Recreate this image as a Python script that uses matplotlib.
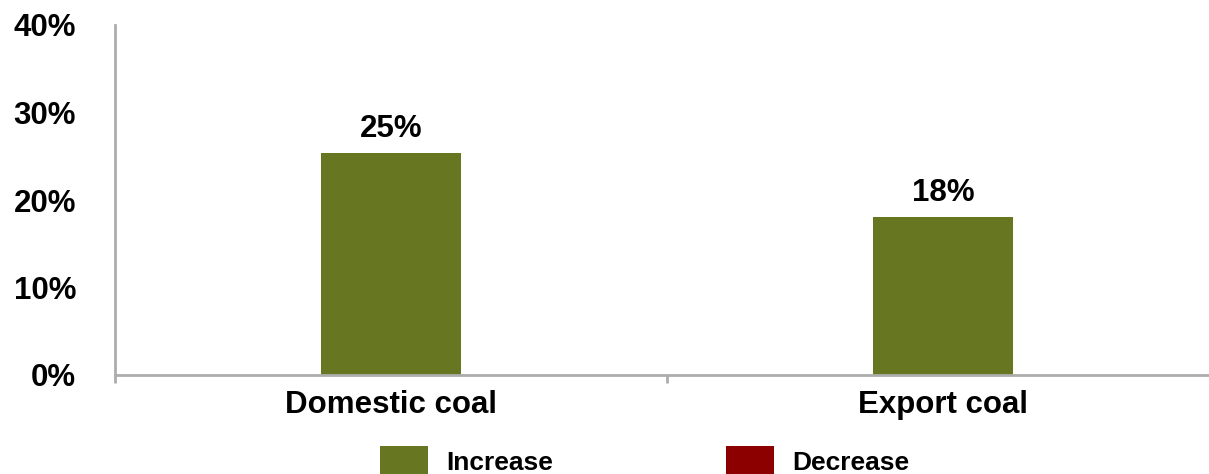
import matplotlib
matplotlib.use("Agg")
import matplotlib.pyplot as plt
from matplotlib.patches import Rectangle
from matplotlib.ticker import FixedLocator

categories = ["Domestic coal", "Export coal"]
values = [25.4, 18.1]
bar_labels = ["25%", "18%"]
yticks = [0, 10, 20, 30, 40]
ytick_labels = ["0%", "10%", "20%", "30%", "40%"]
legend_labels = ["Increase", "Decrease"]

GREEN = "#677721"
RED = "#8C0000"
GRAY = "#ADADAD"
legend_colors = [GREEN, RED]

plt.rcParams['font.family'] = ['Liberation Sans', 'DejaVu Sans']

W, H = 1209, 474
fig = plt.figure(figsize=(W / 100, H / 100), dpi=100)
ax = fig.add_axes([115 / W, 1 - 375 / H, 1104 / W, 350 / H])

x = list(range(len(categories)))
bars = ax.bar(x, values, width=0.254, color=GREEN)
for b, lab in zip(bars, bar_labels):
    ax.annotate(lab, (b.get_x() + b.get_width() / 2, b.get_height()),
                xytext=(0, 6), textcoords="offset points",
                ha="center", va="bottom", fontsize=22.5, fontweight="bold")

ax.set_xlim(-0.5, len(categories) - 0.5)
ax.set_ylim(0, 40)
ax.set_yticks(yticks)
ax.set_yticklabels(ytick_labels, fontsize=22.5, fontweight="bold")
ax.tick_params(axis="y", length=0, pad=28)
ax.set_xticks(x)
ax.set_xticklabels(categories, fontsize=22.5, fontweight="bold")
ax.tick_params(axis="x", which="major", length=0, pad=11)
ax.xaxis.set_minor_locator(FixedLocator([-0.5, 0.5, 1.5]))
ax.tick_params(axis="x", which="minor", length=6, width=2, color=GRAY, direction="out")

for s in ["top", "right"]:
    ax.spines[s].set_visible(False)
for s in ["left", "bottom"]:
    ax.spines[s].set_color(GRAY)
    ax.spines[s].set_linewidth(2)

# legend (drawn in figure pixels)
legend_x = [380, 726]
for lx, lab, col in zip(legend_x, legend_labels, legend_colors):
    fig.add_artist(Rectangle((lx / W, -10 / H), 48 / W, 38 / H,
                             transform=fig.transFigure, facecolor=col,
                             edgecolor="none", clip_on=False))
    fig.text((lx + 66) / W, 4.5 / H, lab, fontsize=19, fontweight="bold",
             ha="left", va="baseline")

fig.savefig("out.png", dpi=100)
